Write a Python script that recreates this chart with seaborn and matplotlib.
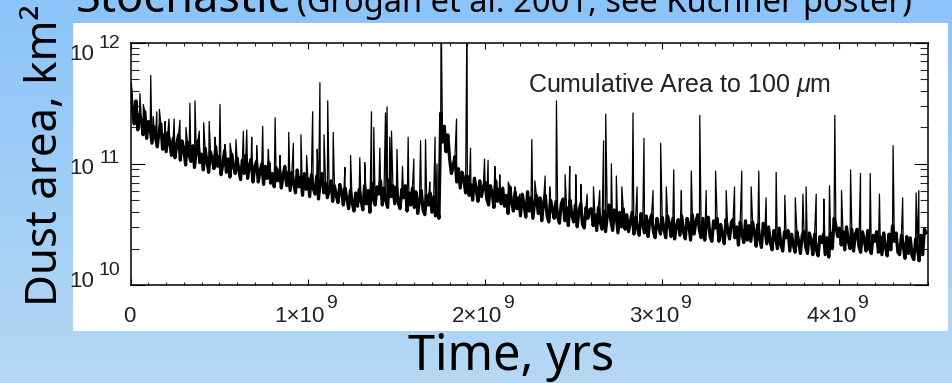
import numpy as np
import matplotlib
matplotlib.use("Agg")
import matplotlib.pyplot as plt
from matplotlib.patches import Rectangle
from matplotlib.colors import LinearSegmentedColormap
from matplotlib.transforms import ScaledTranslation
import matplotlib.ticker as mticker
import seaborn as sns

# ---------------------------------------------------------------------------
# Data: log10 of cumulative dust area (km^2), one sample every 1e7 yr from t=0
# (rows of ten samples = 1e8 yr each)
# ---------------------------------------------------------------------------
log_area = [
    11.62, 11.45, 11.33, 11.52, 11.28, 11.41, 11.36, 11.24, 11.43, 11.21,
    11.35, 11.29, 11.17, 11.31, 11.22, 11.14, 11.27, 11.33, 11.12, 11.24,
    11.10, 11.26, 11.18, 11.07, 11.21, 11.05, 11.16, 11.24, 11.03, 11.19,
    11.12, 10.99, 11.18, 11.07, 11.02, 11.15, 10.97, 11.11, 11.19, 11.01,
    11.08, 10.95, 11.13, 11.02, 10.93, 11.10, 11.04, 10.96, 11.14, 10.98,
    11.06, 10.91, 11.00, 11.11, 10.93, 11.04, 10.89, 11.08, 10.98, 10.92,
    11.05, 10.95, 10.87, 11.03, 10.92, 11.07, 10.88, 10.99, 11.04, 10.85,
    10.97, 11.02, 10.85, 10.94, 11.00, 10.83, 10.98, 10.88, 11.01, 10.84,
    10.92, 10.81, 10.97, 10.86, 10.95, 10.80, 10.90, 10.98, 10.82, 10.93,
    10.78, 10.93, 10.84, 10.76, 10.95, 10.81, 10.89, 10.74, 10.92, 10.79,
    10.88, 10.73, 10.91, 10.80, 10.75, 10.90, 10.71, 10.85, 10.92, 10.76,
    10.84, 10.72, 10.79, 10.86, 10.69, 10.82, 10.74, 10.68, 10.83, 10.77,
    10.66, 10.80, 10.71, 10.63, 10.78, 10.68, 10.61, 10.76, 10.65, 10.79,
    10.70, 10.62, 10.82, 10.67, 10.78, 10.60, 10.84, 10.71, 10.66, 10.81,
    10.75, 10.86, 10.66, 10.80, 10.70, 10.64, 10.87, 10.73, 10.82, 10.67,
    10.81, 10.68, 10.63, 10.79, 10.72, 10.82, 10.61, 10.76, 10.66, 10.80,
    10.64, 10.77, 10.59, 10.70, 10.78, 10.62, 10.58, 10.74, 10.66, 10.76,
    10.60, 10.73, 10.57, 10.67, 10.55, 11.42, 11.18, 11.31, 11.10, 11.24,
    11.04, 10.92, 10.98, 11.06, 10.85, 10.96, 10.80, 10.93, 10.88, 10.76,
    10.90, 10.74, 10.83, 10.70, 10.88, 10.79, 10.69, 10.86, 10.73, 10.81,
    10.85, 10.71, 10.66, 10.82, 10.76, 10.64, 10.86, 10.69, 10.79, 10.67,
    10.80, 10.65, 10.74, 10.59, 10.81, 10.68, 10.61, 10.77, 10.63, 10.72,
    10.57, 10.75, 10.66, 10.56, 10.77, 10.61, 10.72, 10.55, 10.69, 10.74,
    10.59, 10.72, 10.53, 10.68, 10.74, 10.57, 10.52, 10.70, 10.63, 10.55,
    10.69, 10.56, 10.51, 10.67, 10.71, 10.53, 10.64, 10.49, 10.70, 10.58,
    10.52, 10.66, 10.48, 10.61, 10.67, 10.50, 10.47, 10.64, 10.55, 10.62,
    10.63, 10.49, 10.58, 10.45, 10.64, 10.52, 10.46, 10.61, 10.44, 10.57,
    10.66, 10.53, 10.45, 10.62, 10.57, 10.43, 10.60, 10.48, 10.63, 10.46,
    10.58, 10.44, 10.52, 10.60, 10.42, 10.56, 10.47, 10.41, 10.59, 10.50,
    10.43, 10.57, 10.40, 10.53, 10.58, 10.44, 10.39, 10.55, 10.48, 10.42,
    10.56, 10.46, 10.39, 10.57, 10.51, 10.40, 10.55, 10.38, 10.49, 10.54,
    10.41, 10.57, 10.44, 10.38, 10.55, 10.50, 10.37, 10.58, 10.42, 10.52,
    10.58, 10.45, 10.39, 10.55, 10.37, 10.51, 10.56, 10.40, 10.36, 10.53,
    10.47, 10.55, 10.36, 10.50, 10.41, 10.34, 10.54, 10.45, 10.38, 10.52,
    10.54, 10.39, 10.48, 10.33, 10.52, 10.43, 10.35, 10.53, 10.37, 10.49,
    10.36, 10.52, 10.44, 10.32, 10.50, 10.38, 10.31, 10.51, 10.46, 10.34,
    10.48, 10.35, 10.29, 10.45, 10.40, 10.30, 10.47, 10.33, 10.28, 10.44,
    10.39, 10.45, 10.28, 10.42, 10.33, 10.27, 10.44, 10.36, 10.26, 10.41,
    10.44, 10.31, 10.26, 10.43, 10.37, 10.25, 10.42, 10.29, 10.24, 10.40,
    10.35, 10.42, 10.25, 10.39, 10.23, 10.43, 10.30, 10.55, 10.49, 10.40,
    10.47, 10.33, 10.44, 10.29, 10.48, 10.36, 10.30, 10.46, 10.28, 10.42,
    10.46, 10.32, 10.27, 10.44, 10.38, 10.28, 10.45, 10.30, 10.26, 10.41,
    10.36, 10.44, 10.27, 10.40, 10.25, 10.43, 10.31, 10.24, 10.42, 10.29,
    10.49, 10.36, 10.43, 10.27, 10.25, 10.41, 10.33, 10.22, 10.40, 10.26,
    10.39, 10.24, 10.21, 10.38, 10.30, 10.20, 10.41, 10.25, 10.46, 10.43,
]
sample_step_yr = 1.0e7

# Short-lived dust spikes from individual collisions: time (Gyr), log10 peak area
spike_gyr = [
    0.004, 0.052, 0.071, 0.113, 0.128, 0.147, 0.162, 0.194, 0.216, 0.245,
    0.278, 0.312, 0.334, 0.363, 0.387, 0.412, 0.443, 0.476, 0.504, 0.532,
    0.561, 0.594, 0.636, 0.655, 0.683, 0.711, 0.745, 0.777, 0.815, 0.843,
    0.892, 0.918, 0.961, 0.993, 1.027, 1.053, 1.068, 1.091, 1.112, 1.143,
    1.209, 1.241, 1.293, 1.321, 1.359, 1.372, 1.406, 1.438, 1.447, 1.462,
    1.472, 1.503, 1.534, 1.566, 1.598, 1.636, 1.664, 1.688, 1.718, 1.729,
    1.752, 1.758, 1.771, 1.803, 1.839, 1.867, 1.898, 1.918, 1.943, 1.997,
    2.017, 2.055, 2.083, 2.131, 2.168, 2.196, 2.264, 2.281, 2.339, 2.365,
    2.403, 2.452, 2.478, 2.512, 2.541, 2.576, 2.612, 2.647, 2.669, 2.681,
    2.713, 2.741, 2.772, 2.835, 2.858, 2.897, 2.948, 2.991, 3.023, 3.065,
    3.108, 3.164, 3.212, 3.248, 3.301, 3.361, 3.408, 3.449, 3.502, 3.545,
    3.586, 3.643, 3.692, 3.751, 3.794, 3.812, 3.869, 3.912, 3.944, 3.974,
    4.012, 4.063, 4.119, 4.174, 4.226, 4.303, 4.357, 4.433, 4.448,
]
spike_log = [
    11.67, 11.58, 11.49, 11.73, 11.39, 11.43, 11.45, 11.35, 11.37, 11.37,
    11.36, 11.30, 11.50, 11.52, 11.27, 11.34, 11.35, 11.22, 11.49, 11.16,
    11.17, 11.20, 11.27, 11.28, 11.22, 11.15, 11.31, 11.12, 11.38, 11.07,
    11.26, 11.17, 11.24, 11.07, 11.43, 11.12, 11.67, 11.24, 11.52, 11.26,
    10.97, 11.07, 11.05, 11.01, 11.43, 11.30, 11.13, 11.42, 11.47, 11.22,
    11.27, 11.12, 10.98, 11.22, 11.04, 11.19, 11.20, 10.85, 11.22, 11.00,
    12.30, 11.52, 11.13, 11.04, 11.37, 10.94, 12.30, 11.13, 10.89, 11.04,
    11.03, 10.98, 10.91, 10.85, 10.81, 10.75, 11.20, 10.86, 10.90, 10.81,
    11.52, 10.91, 10.98, 10.91, 10.83, 10.75, 10.81, 10.78, 11.19, 11.41,
    11.00, 10.90, 10.81, 11.42, 10.81, 11.21, 10.78, 11.17, 10.81, 10.95,
    10.78, 10.94, 11.40, 10.78, 10.94, 10.78, 10.81, 10.94, 10.81, 10.94,
    10.72, 10.93, 10.74, 10.72, 10.75, 10.81, 10.75, 10.71, 10.82, 11.40,
    10.78, 10.95, 10.92, 10.92, 10.75, 11.15, 10.72, 10.76, 10.78,
]

# axis ticks and their labels (mantissa part and raised exponent)
x_ticks = [0.0, 1e9, 2e9, 3e9, 4e9]
x_tick_main = ["0", "1×10", "2×10", "3×10", "4×10"]
x_tick_exp = ["", "9", "9", "9", "9"]
y_ticks = [1e10, 1e11, 1e12]
y_tick_main = ["10", "10", "10"]
y_tick_exp = ["10", "11", "12"]

# ---------------------------------------------------------------------------
# Assemble the time series (smooth decay + spikes, in time order)
# ---------------------------------------------------------------------------
base_years = np.arange(len(log_area)) * sample_step_yr
base = {"years": base_years, "area": 10.0 ** np.asarray(log_area)}
years = np.concatenate([base_years, np.asarray(spike_gyr) * 1e9])
logs = np.concatenate([np.asarray(log_area), np.asarray(spike_log)])
order = np.argsort(years, kind="stable")
series = {"years": years[order], "area": 10.0 ** logs[order]}

# ---------------------------------------------------------------------------
# Figure styling
# ---------------------------------------------------------------------------
sns.set_theme(style="ticks")
plt.rcParams["font.family"] = ["Liberation Sans", "DejaVu Sans"]
plt.rcParams["mathtext.fontset"] = "custom"
plt.rcParams["mathtext.rm"] = "Liberation Sans"
plt.rcParams["mathtext.it"] = "Liberation Sans:italic"
plt.rcParams["mathtext.bf"] = "Liberation Sans:bold"

W, H = 952, 383
fig = plt.figure(figsize=(W / 100, H / 100), dpi=100)

def px(dx, dy):
    """Offset in screen pixels (x right, y down)."""
    return ScaledTranslation(dx / 100, -dy / 100, fig.dpi_scale_trans)

# slide background: soft vertical blue gradient
bg = fig.add_axes([0, 0, 1, 1], zorder=-10)
grad = np.linspace(0, 1, 256)[:, None]
bg.imshow(grad, aspect="auto", extent=[0, 1, 0, 1], origin="upper",
          cmap=LinearSegmentedColormap.from_list("slide", ["#8bc4fa", "#b6d8f4"]))
bg.set_axis_off()

# white panel behind the plot
fig.add_artist(Rectangle((73 / W, 1 - 331 / H), (948 - 73) / W, (331 - 23) / H,
                         transform=fig.transFigure, facecolor="white",
                         edgecolor="none", zorder=-5))

# plot axes
ax_l, ax_r, ax_t, ax_b = 130.7, 928.0, 42.7, 285.0
ax = fig.add_axes([ax_l / W, 1 - ax_b / H, (ax_r - ax_l) / W, (ax_b - ax_t) / H])
ax.set_facecolor("white")

# dense noisy band drawn heavier, full series with the thin spikes on top
sns.lineplot(data=base, x="years", y="area", ax=ax, estimator=None, sort=False,
             color="black", linewidth=2.3)
sns.lineplot(data=series, x="years", y="area", ax=ax, estimator=None, sort=False,
             color="black", linewidth=0.9)

ax.set_yscale("log")
ax.set_xlim(0, 4.5e9)
ax.set_ylim(1e10, 1e12)
ax.set_xlabel("")
ax.set_ylabel("")

for side in ["left", "right", "top", "bottom"]:
    ax.spines[side].set_visible(True)
    ax.spines[side].set_linewidth(1.1)
    ax.spines[side].set_color("black")

ax.xaxis.set_major_locator(mticker.FixedLocator(x_ticks))
ax.xaxis.set_minor_locator(mticker.MultipleLocator(1e8))
ax.yaxis.set_major_locator(mticker.FixedLocator(y_ticks))
ax.yaxis.set_minor_locator(mticker.LogLocator(base=10, subs=np.arange(2, 10)))
ax.xaxis.set_major_formatter(mticker.NullFormatter())
ax.xaxis.set_minor_formatter(mticker.NullFormatter())
ax.yaxis.set_major_formatter(mticker.NullFormatter())
ax.yaxis.set_minor_formatter(mticker.NullFormatter())

ax.tick_params(axis="x", which="major", direction="in", length=4.3, width=0.8,
               top=True, bottom=True, colors="black")
ax.tick_params(axis="x", which="minor", direction="in", length=2.2, width=0.8,
               top=True, bottom=True)
ax.tick_params(axis="y", which="major", direction="in", length=10, width=0.8,
               left=True, right=True, colors="black")
ax.tick_params(axis="y", which="minor", direction="in", length=5.8, width=0.8,
               left=True, right=True)

tick_color = "#222222"
main_size, exp_size = 16, 14

# time-axis labels: mantissa ending just right of the tick, exponent raised after it
xtrans = ax.get_xaxis_transform()
for val, main, exp in zip(x_ticks, x_tick_main, x_tick_exp):
    if exp:
        ax.text(val, 0, main, ha="right", va="baseline", fontsize=main_size,
                color=tick_color, transform=xtrans + px(17, 37), clip_on=False)
        ax.text(val, 0, exp, ha="left", va="baseline", fontsize=exp_size,
                color=tick_color, transform=xtrans + px(18, 23), clip_on=False)
    else:
        ax.text(val, 0, main, ha="center", va="baseline", fontsize=main_size,
                color=tick_color, transform=xtrans + px(-1, 37), clip_on=False)

# decade labels on the log axis
main_drop_px = [2, 10, 17]
exp_drop_px = [-10, -1, 5]
ytrans = ax.get_yaxis_transform()
for val, main, exp, dm, de in zip(y_ticks, y_tick_main, y_tick_exp,
                                  main_drop_px, exp_drop_px):
    ax.text(0, val, main, ha="right", va="baseline", fontsize=main_size,
            color=tick_color, transform=ytrans + px(94 - ax_l, dm), clip_on=False)
    ax.text(0, val, exp, ha="right", va="baseline", fontsize=exp_size,
            color=tick_color, transform=ytrans + px(120 - ax_l, de), clip_on=False)

# annotation inside the plot
fig.text(528 / W, 1 - 92 / H, "Cumulative Area to 100 $\\mu$m", fontsize=18,
         color=tick_color, va="baseline")

# slide texts
slide_font = ["Noto Sans", "DejaVu Sans"]
fig.text(511 / W, 1 - 370 / H, "Time, yrs", fontsize=35, family=slide_font,
         ha="center", va="baseline", color="black")
fig.text(57 / W, 1 - 155 / H, "Dust area, km²", fontsize=31.5, family=slide_font,
         rotation=90, rotation_mode="anchor", ha="center", va="baseline", color="black")
fig.text(76 / W, 1 - 12 / H, "Stochastic", fontsize=32.5, family=slide_font,
         weight="bold", va="baseline", color="black")
fig.text(297 / W, 1 - 12 / H, "(Grogan et al. 2001, see Kuchner poster)", fontsize=23.5,
         family=slide_font, va="baseline", color="black")

fig.savefig("out.png", dpi=100)
